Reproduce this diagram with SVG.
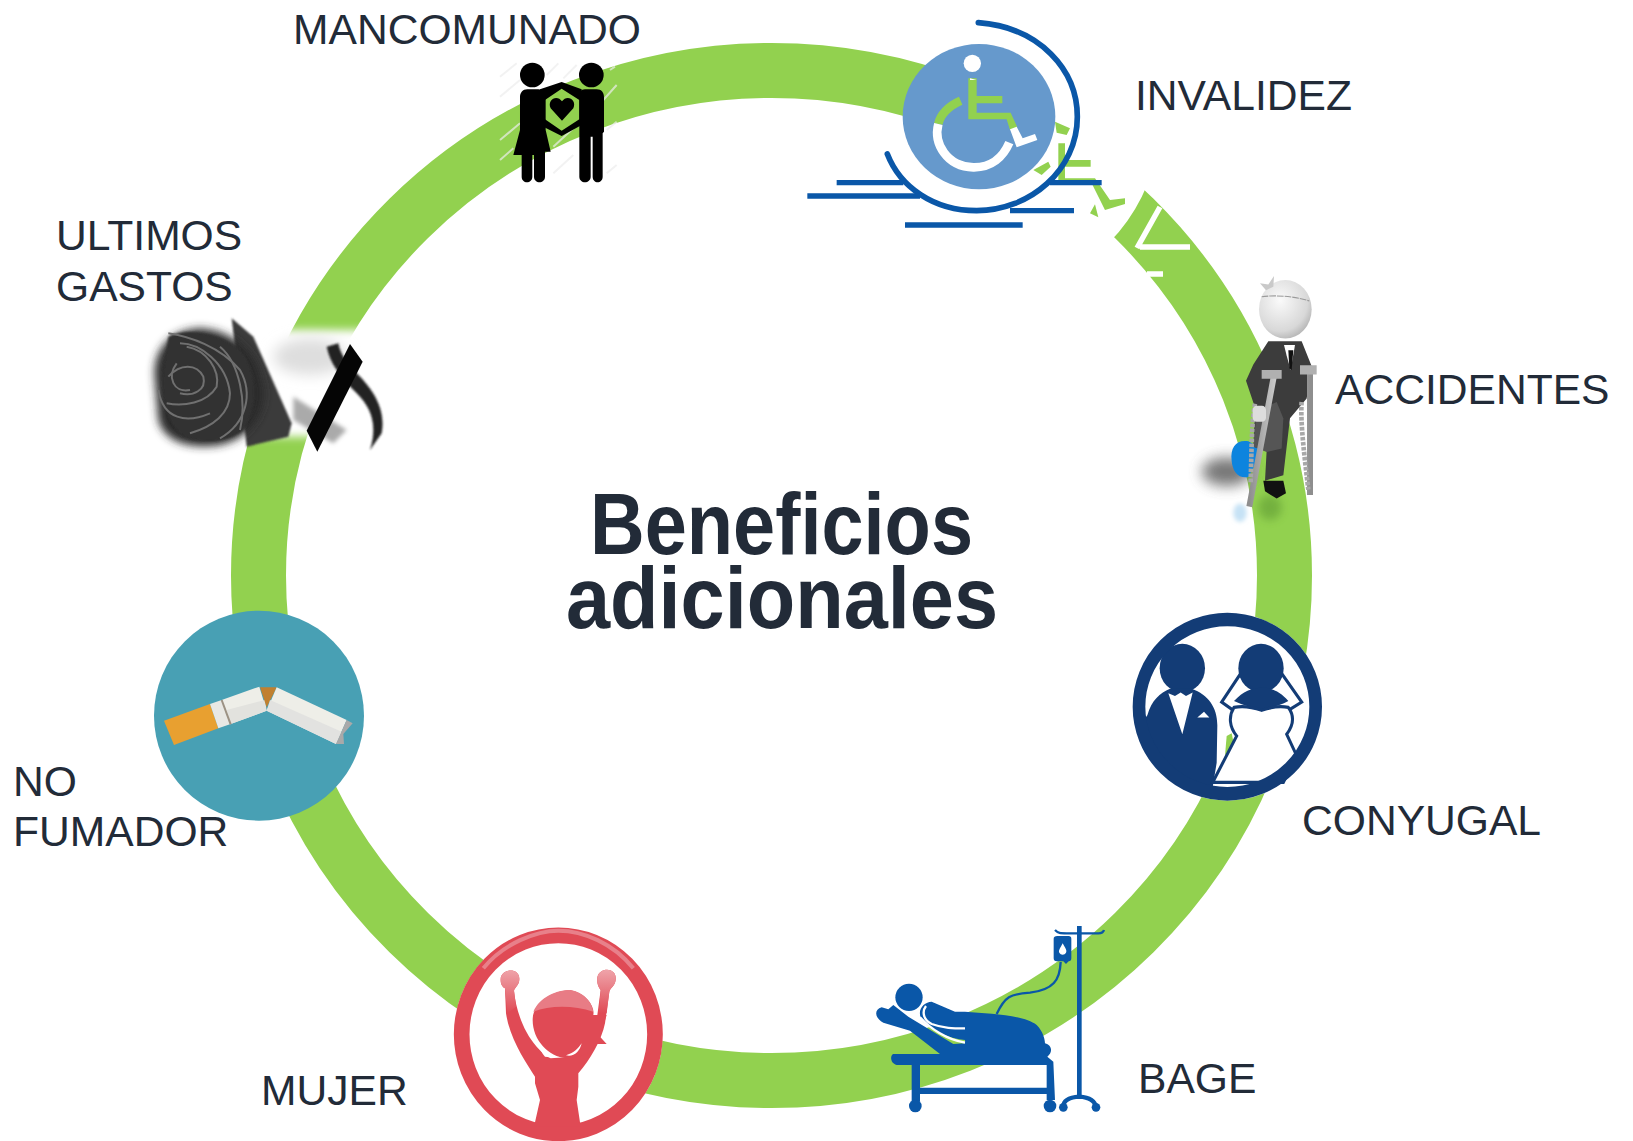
<svg xmlns="http://www.w3.org/2000/svg" width="1633" height="1141" viewBox="0 0 1633 1141">
<style>
.lb{font:42.6px "Liberation Sans",Arial,sans-serif;fill:#222b38}
.tt{font:bold 88px "Liberation Sans",Arial,sans-serif;fill:#222b38}
.gr{fill:#92d14f}
.bl{fill:#0a57a8}
.bs{stroke:#0a57a8;fill:none}
.nv{fill:#133c76}
.rd{fill:#e04a55}
.k{fill:#000}
</style>
<defs>
<filter id="b2" x="-30%" y="-30%" width="160%" height="160%"><feGaussianBlur stdDeviation="2"/></filter>
<filter id="b3" x="-30%" y="-30%" width="160%" height="160%"><feGaussianBlur stdDeviation="3"/></filter>
<filter id="b6" x="-40%" y="-40%" width="180%" height="180%"><feGaussianBlur stdDeviation="6"/></filter>
<filter id="b12" x="-40%" y="-40%" width="180%" height="180%"><feGaussianBlur stdDeviation="12"/></filter>
<filter id="b20" x="-60%" y="-60%" width="220%" height="220%"><feGaussianBlur stdDeviation="20"/></filter>
<radialGradient id="hd" cx=".4" cy=".35" r=".75"><stop offset="0" stop-color="#fafafa"/><stop offset=".7" stop-color="#d8d8d8"/><stop offset="1" stop-color="#a8a8a8"/></radialGradient>
<linearGradient id="cr" x1="0" x2="1"><stop offset="0" stop-color="#8e8e8e"/><stop offset=".5" stop-color="#d4d4d4"/><stop offset="1" stop-color="#8e8e8e"/></linearGradient>
<linearGradient id="ft" x1="0" y1="0" x2="0" y2="1"><stop offset="0" stop-color="#efa4aa"/><stop offset="1" stop-color="#e04a55"/></linearGradient>
</defs>

<g id="connectors">
<ellipse cx="771.5" cy="575.5" rx="513" ry="505" fill="none" stroke="#92d14f" stroke-width="55"/>
<path d="M979,117 L979,-65 A182,182 0 0 1 1161,117 L1160,130 A180,180 0 0 1 1026,291 Z" fill="#fff"/>
<path d="M1160,207 L1137,248 M1140,247 H1190 M1147,274 H1163" fill="none" stroke="#fff" stroke-width="5.5"/>
</g>

<g id="node-invalidez">
<g transform="translate(800,0) scale(.33333)">
<path class="gr" d="M765,365 L810,385 L800,405 L770,398Z M775,430H795V480H872V500H795V535H885L930,600 L975,595 L975,612 L915,630 L875,550 H775Z M700,510 L745,485 L752,500 L725,525Z M870,640 L885,613 L895,652Z"/>
<ellipse cx="537" cy="350" rx="229" ry="218" fill="#6699cc"/>
<circle cx="517" cy="190" r="26" fill="#fff"/>
<path class="gr" d="M505,235H530V288H607V310H530V338H632L652,382 L630,390 L620,358H505Z"/>
<path d="M630,388 L650,380 L668,415 L705,402 L712,420 L650,442Z M510,235 L530,240 L510,240Z" fill="#fff"/>
<path d="M482,302 C445,318 420,345 415,372" fill="none" stroke="#92d14f" stroke-width="26"/>
<path d="M415,372 C400,430 440,500 520,502 C575,503 610,470 628,428" fill="none" stroke="#fff" stroke-width="26"/>
<path class="bs" stroke-width="17" d="M535,68 C720,82 832,210 832,350 C832,510 690,632 530,632 C400,632 300,560 262,462" stroke-linecap="round"/>
<path class="bs" stroke-width="16" d="M110,548H310 M750,548H905 M22,588H360 M630,632H822 M315,675H668"/>
</g>
</g>

<g id="node-accidentes">
<g transform="translate(1120,261) scale(.33333,.35714)">
<ellipse cx="320" cy="590" rx="75" ry="40" fill="#555" opacity=".8" filter="url(#b20)"/>
<ellipse cx="450" cy="690" rx="35" ry="35" fill="#4f8a2a" opacity=".45" filter="url(#b12)"/>
<ellipse cx="360" cy="705" rx="20" ry="26" fill="#c6e2f5" filter="url(#b6)"/>
<path d="M335,560 C330,520 350,500 385,505 L415,520 L412,560 L385,605 C355,610 338,590 335,560Z" fill="#0d84de"/>
<path d="M445,225 L545,225 L575,295 L560,385 L510,440 L490,600 L435,615 L440,530 L400,520 L405,410 L378,335 L400,290Z" fill="#3c3c3c"/>
<path d="M470,395 L490,440 L485,525 L440,535 L400,520 L410,420Z" fill="#555"/>
<path d="M492,235 L525,235 L512,305 L500,265Z" fill="#fff"/>
<path d="M505,250 H520 L515,305 L508,300Z" fill="#111"/>
<path d="M430,615 L490,615 L498,650 L470,665 L435,645Z" fill="#111"/>
<path d="M462,320 L388,688 M570,300 V655" fill="none" stroke="url(#cr)" stroke-width="18"/>
<path d="M405,400 C395,450 395,520 392,620 M545,395 C540,450 555,560 565,640" fill="none" stroke="#a8a8a8" stroke-width="14" stroke-dasharray="10 4"/>
<path d="M425,305 H485 V330 H425Z M540,292 H590 V318 H540Z" fill="#b0b0b0"/>
<rect x="398" y="405" width="40" height="45" rx="12" fill="#ddd"/>
<ellipse cx="496" cy="135" rx="79" ry="82" fill="url(#hd)"/>
<path d="M425,100 C470,95 520,98 568,112" fill="none" stroke="#9a9a9a" stroke-width="3" stroke-dasharray="20 3"/>
<path d="M438,82 L420,62 L445,66 L462,42 L460,72Z" fill="#c9c9c9"/>
</g>
</g>

<g id="node-conyugal">
<g transform="translate(1120,261) scale(.33333,.35714)">
<ellipse cx="322" cy="1248" rx="284" ry="263" fill="#fff"/>
<path class="gr" d="M320,1330 L335,1322 L340,1345 L315,1385Z"/>
<circle class="nv" cx="187" cy="1140" r="68"/>
<path class="nv" d="M82,1272 C95,1230 120,1210 150,1198 L215,1198 C265,1215 292,1250 292,1300 L290,1405 L275,1490 L200,1480 Q90,1420 60,1300Z"/>
<path d="M145,1210 L165,1218 L182,1208 L198,1218 L218,1208 L187,1325Z" fill="#fff"/>
<path d="M232,1278 L252,1262 L268,1278Z" fill="#fff"/>
<path d="M362,1155 L305,1235 L340,1258 H505 L545,1235 L485,1155" fill="#fff" stroke="#133c76" stroke-width="9"/>
<circle class="nv" cx="423" cy="1140" r="68"/>
<path class="nv" d="M342,1232 C370,1205 395,1195 425,1195 C455,1195 480,1205 505,1232 C480,1245 450,1250 425,1258 C400,1250 370,1245 342,1232Z"/>
<path d="M342,1250 C325,1275 328,1305 350,1330 L278,1460 H490 L530,1385 L500,1325 C520,1300 525,1275 505,1250 C480,1245 450,1250 425,1258 C400,1250 370,1245 342,1250Z" fill="#fff" stroke="#133c76" stroke-width="9"/>
<ellipse cx="322" cy="1248" rx="265" ry="244" fill="none" stroke="#133c76" stroke-width="38"/>
</g>
</g>

<g id="node-bage">
<g transform="translate(840,900) scale(.33333)">
<circle class="bl" cx="207" cy="292" r="41"/>
<path class="bl" d="M160,462H300 L210,392 L130,368 C105,355 100,330 125,322 L145,328 L160,315 L205,350 L340,432 L375,430 L375,420 C330,415 280,395 250,365 C225,335 250,305 275,305 L345,335 L375,335 C450,340 550,345 590,375 C610,395 615,420 615,430 C635,435 640,455 622,470 L640,485 L645,600 H620 V495 H240 V563 H620 V582 H240 V605 H215 V495 H170 C150,490 150,465 160,462Z"/>
<path d="M258,318 C245,335 250,360 275,372 C310,385 340,385 375,385 M240,352 C270,385 320,420 375,428" fill="none" stroke="#fff" stroke-width="7"/>
<circle class="bl" cx="226" cy="618" r="19"/>
<circle class="bl" cx="630" cy="618" r="19"/>
<path class="bs" stroke-width="14" d="M718,78 V590"/>
<path class="bs" stroke-width="13" d="M670,620 C670,600 690,592 718,590 C745,592 765,600 768,622"/>
<circle class="bl" cx="670" cy="622" r="13"/>
<circle class="bl" cx="768" cy="622" r="13"/>
<path class="bs" stroke-width="7" d="M645,90 C655,100 660,100 680,100 H775 C785,100 790,97 792,90"/>
<path class="bl" d="M652,108 H686 Q694,108 694,116 V175 Q694,184 686,184 L678,192 L670,184 H650 Q641,184 641,175 V116 Q641,108 652,108Z"/>
<path d="M668,130 C676,145 682,152 678,158 C674,166 662,166 658,158 C654,152 662,143 668,130Z" fill="#fff"/>
<path class="bs" stroke-width="7" d="M662,186 C660,240 640,270 570,278 C510,282 495,290 470,342"/>
</g>
</g>

<g id="node-mujer">
<g transform="translate(240,900) scale(.33333)">
<ellipse cx="955" cy="403" rx="313" ry="320" fill="#fff"/>
<ellipse cx="955" cy="403" rx="290" ry="297" fill="none" stroke="#e04a55" stroke-width="47"/>
<path d="M730,205 C790,130 890,92 955,92 C1030,92 1120,130 1180,205" fill="none" stroke="#e8808a" stroke-width="12"/>
<path class="rd" d="M782,240 C780,205 840,200 838,238 C838,255 825,262 822,272 C828,330 850,395 890,440 C905,458 920,470 932,475 L1000,470 C1030,450 1060,410 1070,360 L1082,270 C1075,260 1070,250 1072,232 C1078,200 1132,200 1127,240 C1125,258 1112,262 1108,275 L1095,370 C1085,420 1050,480 1015,520 L1015,560 L1010,600 L1022,680 L882,680 L900,600 L885,550 L885,530 C860,490 810,420 798,340 L795,265 C785,260 782,250 782,240Z"/>
<path class="rd" d="M878,360 C878,310 930,275 990,270 C1040,280 1065,320 1060,345 L1100,345 L1080,410 L1100,432 L1070,432 C1050,460 1020,475 980,475 C925,470 878,420 878,360Z"/>
<path d="M880,335 C900,290 950,270 990,270 C1030,275 1055,305 1060,335 C1000,315 930,315 880,335Z" fill="#e87c85"/>
<path d="M782,240 C780,205 840,200 838,238 C838,255 825,262 822,272 L828,320 L802,340 L795,265 C785,260 782,250 782,240Z M1072,232 C1078,200 1132,200 1127,240 C1125,258 1112,262 1108,275 L1100,340 L1076,340 L1082,270 C1075,260 1070,250 1072,232Z" fill="url(#ft)"/>
<path d="M898,430 Q912,458 932,472 L915,470 Q900,455 898,430Z M978,466 C1000,460 1015,445 1025,430 C1020,455 1000,472 978,466Z" fill="#fff"/>
</g>
</g>

<g id="node-no-fumador">
<g transform="translate(0,590) scale(.33333)">
<circle cx="777" cy="377" r="315" fill="#48a0b4"/>
<path d="M492,392 L630,342 L655,415 L522,465Z" fill="#e8a030"/>
<path d="M630,342 L665,330 L690,403 L655,415Z" fill="#e8e8e4"/>
<path d="M665,330 L778,290 L800,362 L690,403Z" fill="#eeeee8"/>
<path d="M680,360 L795,330 L800,362 L690,403Z" fill="#e2e2de"/>
<path d="M665,330 L692,403" stroke="#9c9284" stroke-width="6" fill="none"/>
<path d="M780,292 L830,292 L800,352Z" fill="#c08030"/>
<path d="M830,292 L1040,390 L1008,462 L800,362Z" fill="#eeeee8"/>
<path d="M810,330 L1025,425 L1008,462 L800,362Z" fill="#e2e2e0"/>
<path d="M1040,390 L1058,400 L1030,432 L1032,462 L1008,462Z" fill="#a9a9a9"/>
</g>
</g>

<g id="node-ultimos-gastos">
<g transform="translate(40,190) scale(.33333)">
<rect x="590" y="420" width="400" height="320" fill="#fff" filter="url(#b12)"/>
<ellipse cx="810" cy="500" rx="110" ry="55" fill="#dedede" filter="url(#b20)"/>
<path d="M760,620 L920,720 L880,760 L760,690Z" fill="#aaa" filter="url(#b6)"/>
<path d="M575,385 L640,440 L755,700 L745,740 L620,770 Z" fill="#3a3a3a" filter="url(#b3)"/>
<path d="M345,570 C335,480 390,420 480,415 C570,420 650,480 665,570 C690,640 650,740 540,765 C440,780 370,750 355,690Z" fill="#2a2a2a" filter="url(#b12)"/>
<path d="M385,440 C440,410 540,430 600,480 C650,540 660,640 610,720 C560,760 480,760 430,740 C380,700 360,620 370,540Z" fill="#333" filter="url(#b3)"/>
<g fill="none" stroke="#6f6f6f" stroke-width="6" filter="url(#b2)">
<path d="M385,430 C450,440 540,470 600,540 C640,610 620,700 540,745"/>
<path d="M420,460 C480,460 560,520 570,610 C570,670 520,710 450,730"/>
<path d="M380,640 C430,650 500,640 530,590 C540,540 500,480 440,470"/>
<path d="M385,560 C420,520 470,520 490,560 C500,600 460,620 420,610"/>
<path d="M410,520 C380,560 400,610 450,600"/>
<path d="M355,600 C370,690 440,700 510,670"/>
<path d="M540,470 C600,520 620,640 600,720"/>
</g>
<path d="M860,470 C870,520 900,560 950,610 C990,650 1015,700 990,780 L1025,730 C1040,650 990,590 950,550 C920,520 900,490 895,460Z" fill="#222" filter="url(#b3)"/>
<path d="M930,462 L968,515 L832,785 L800,722Z" fill="#050505"/>
</g>
</g>

<g id="node-mancomunado">
<g transform="translate(280,0) scale(.33333)">
<path d="M660,230 L710,190 M800,225 L835,190 M850,235 L890,195 M660,290 L720,240 M660,420 L720,370 M820,440 L880,385 M980,390 L1010,365 M970,300 L1010,255 M660,480 L700,445 M820,520 L880,465 M980,520 L1010,495 M990,210 L1005,200" stroke="#ececec" stroke-width="6" fill="none" opacity=".7"/>
<circle class="k" cx="757" cy="225" r="37"/>
<circle class="k" cx="934" cy="225" r="37"/>
<path class="k" d="M742,268 H775 C790,268 797,278 797,292 V390 L812,455 H795 V530 C795,552 762,552 762,530 V465 H757 V530 C757,552 725,552 725,530 V465 H700 L720,390 V292 C720,278 728,268 742,268Z"/>
<path class="k" d="M915,268 H950 C965,268 972,278 972,292 V395 L968,400 V530 C968,552 938,552 938,530 V410 H932 V530 C932,552 898,552 898,530 V292 C898,278 902,268 915,268Z"/>
<path class="k" fill-rule="evenodd" d="M780,268 L845,246 L905,268 V375 L845,408 L790,380 Z M795,300 L845,266 L898,300 V358 L845,392 L795,358Z"/>
<path class="k" d="M846,362 L812,325 C800,298 832,282 846,304 C860,282 892,298 880,325Z"/>
</g>
</g>

<g id="labels">
<text class="lb" x="293" y="44">MANCOMUNADO</text>
<text class="lb" x="1135" y="110">INVALIDEZ</text>
<text class="lb" x="1335" y="404">ACCIDENTES</text>
<text class="lb" x="1302" y="835">CONYUGAL</text>
<text class="lb" x="1138" y="1093">BAGE</text>
<text class="lb" x="261" y="1105">MUJER</text>
<text class="lb" x="13" y="796">NO</text>
<text class="lb" x="13" y="846">FUMADOR</text>
<text class="lb" x="56" y="250">ULTIMOS</text>
<text class="lb" x="56" y="301">GASTOS</text>
<text class="tt" x="590" y="554" textLength="383" lengthAdjust="spacingAndGlyphs">Beneficios</text>
<text class="tt" x="566" y="628" textLength="432" lengthAdjust="spacingAndGlyphs">adicionales</text>
</g>
</svg>
